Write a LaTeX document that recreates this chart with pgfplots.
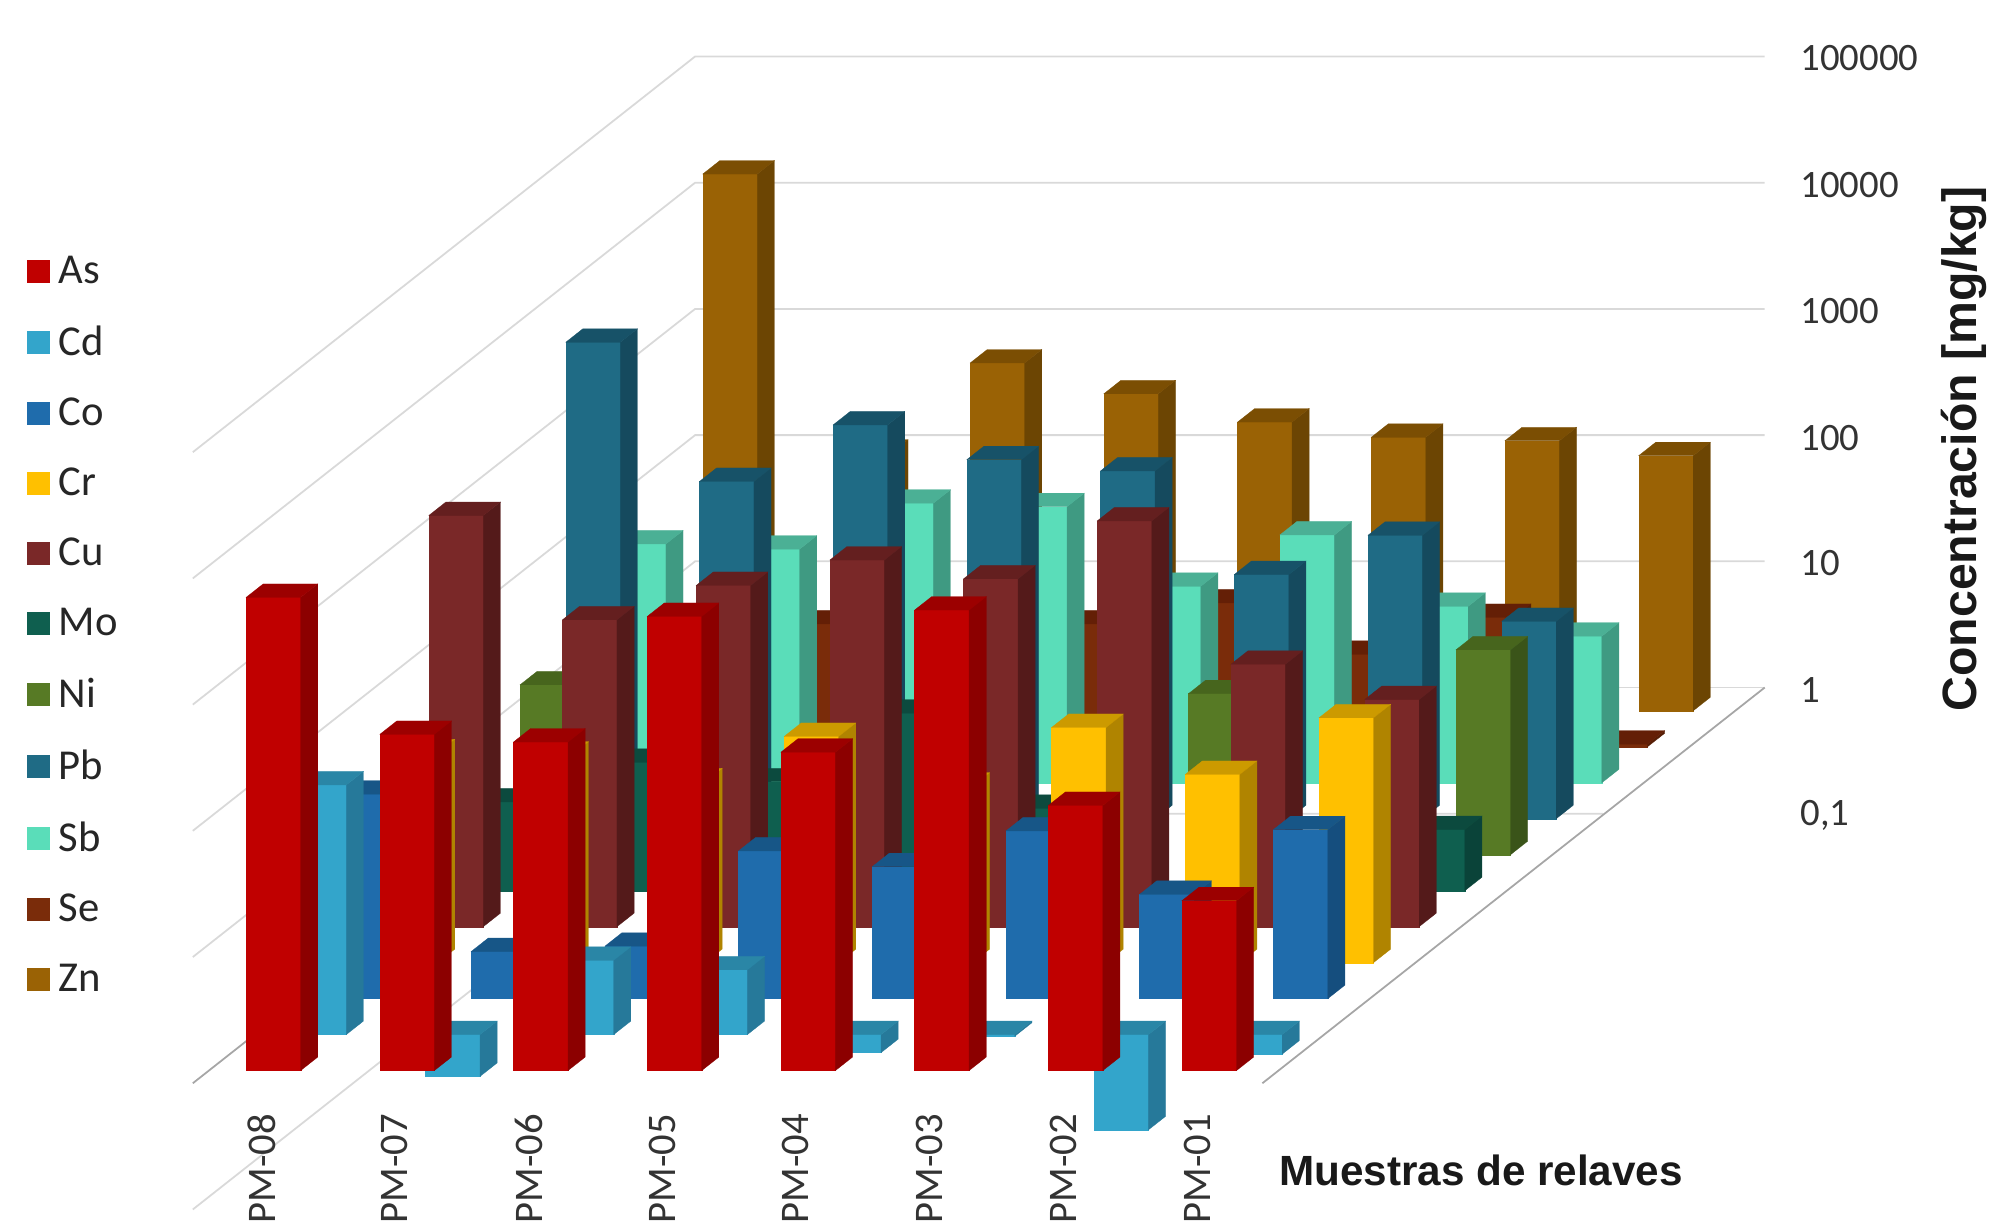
\documentclass[border=0pt]{standalone}
\usepackage{fontspec}
\setmainfont{Carlito}
\newfontfamily\arial{Liberation Sans}
\usepackage{pgfplots}
\usepackage{pgfplotstable}
\pgfplotsset{compat=1.18}

% concentrations in mg/kg, nan = no bar
\pgfplotstableread{
sample As    Cd    Co   Cr  Cu   Mo   Ni   Pb   Sb  Se   Zn
PM-08  5610  95    41.7 46  1810 5.05 22.2 5960 78  5    17900
PM-07  461   0.466 2.36 44  270  10.4 nan  470  71  9.4  110
PM-06  401   3.88  2.6  27  505  7.3  nan  1320 164 5    570
PM-05  3963  3.26  14.8 62  803  25.5 nan  700  154 9.4  325
PM-04  333   0.72  11.1 25  570  4.5  nan  570  36  13.8 194
PM-03  4449  0.97  21.3 73  1640 nan  18.9 86   92  5.4  147
PM-02  126   0.176 6.7  31  120  nan  nan  176  25  10.6 138
PM-01  22.2  0.7   21.8 87  63   3.05 42   36.6 14.5 1.05 105
}\metals

\definecolor{AsF}{HTML}{C00000}\definecolor{AsS}{HTML}{8C0000}\definecolor{AsT}{HTML}{9C0000}
\definecolor{CdF}{HTML}{33A5CB}\definecolor{CdS}{HTML}{26799A}\definecolor{CdT}{HTML}{2A86A6}
\definecolor{CoF}{HTML}{1F6CAC}\definecolor{CoS}{HTML}{154E7E}\definecolor{CoT}{HTML}{175687}
\definecolor{CrF}{HTML}{FFC000}\definecolor{CrS}{HTML}{B08400}\definecolor{CrT}{HTML}{CC9A00}
\definecolor{CuF}{HTML}{7A2828}\definecolor{CuS}{HTML}{541A1A}\definecolor{CuT}{HTML}{641F1F}
\definecolor{MoF}{HTML}{0F5F4F}\definecolor{MoS}{HTML}{0A4339}\definecolor{MoT}{HTML}{0C4A3E}
\definecolor{NiF}{HTML}{577A25}\definecolor{NiS}{HTML}{3A5419}\definecolor{NiT}{HTML}{47651D}
\definecolor{PbF}{HTML}{1F6B85}\definecolor{PbS}{HTML}{154A5E}\definecolor{PbT}{HTML}{175268}
\definecolor{SbF}{HTML}{5ADDB9}\definecolor{SbS}{HTML}{3F9A82}\definecolor{SbT}{HTML}{4BB095}
\definecolor{SeF}{HTML}{7A2C0A}\definecolor{SeS}{HTML}{561E06}\definecolor{SeT}{HTML}{641F06}
\definecolor{ZnF}{HTML}{9A6205}\definecolor{ZnS}{HTML}{6C4503}\definecolor{ZnT}{HTML}{7B4E03}
\definecolor{wall}{HTML}{D9D9D9}
\definecolor{floorline}{HTML}{A6A6A6}

\def\nodata{nan}
% one 3D bar: sample index, row index, metal
\newcommand{\Bar}[3]{%
  \pgfplotstablegetelem{#1}{#3}\of\metals
  \ifx\pgfplotsretval\nodata\else
    \edef\val{\pgfplotsretval}%
    \edef\hi{\fpeval{max(\val,1)}}\edef\lo{\fpeval{min(\val,1)}}%
    \edef\xa{\fpeval{#1+0.278}}\edef\xb{\fpeval{#1+0.686}}%
    \edef\ya{\fpeval{#2+0.353}}\edef\yb{\fpeval{#2+0.728}}%
    \addplot3[forget plot,fill=#3F,draw=#3F,line width=0.1pt] coordinates
      {(\xa,\ya,\lo)(\xb,\ya,\lo)(\xb,\ya,\hi)(\xa,\ya,\hi)} -- cycle;
    \addplot3[forget plot,fill=#3S,draw=#3S,line width=0.1pt] coordinates
      {(\xb,\ya,\lo)(\xb,\yb,\lo)(\xb,\yb,\hi)(\xb,\ya,\hi)} -- cycle;
    \addplot3[forget plot,fill=#3T,draw=#3T,line width=0.1pt] coordinates
      {(\xa,\ya,\hi)(\xb,\ya,\hi)(\xb,\yb,\hi)(\xa,\yb,\hi)} -- cycle;
  \fi}
\newcommand{\Row}[2]{\Bar{0}{#2}{#1}\Bar{1}{#2}{#1}\Bar{2}{#2}{#1}\Bar{3}{#2}{#1}%
  \Bar{4}{#2}{#1}\Bar{5}{#2}{#1}\Bar{6}{#2}{#1}\Bar{7}{#2}{#1}}
\newcommand{\Level}[1]{%
  \addplot3[forget plot,wall,line width=0.7pt] coordinates {(0,0,#1)(0,11,#1)(8,11,#1)};}
\newcommand{\Entry}[1]{\addlegendimage{fill=#1F,draw=none}\addlegendentry{\hspace{1.5pt}#1}}
% text position in pixels of the 1568 wide view
\newcommand{\PX}[2]{([xshift=#1*0.5pt,yshift=-#2*0.5pt]TL)}

\begin{document}
\begin{tikzpicture}
\begin{axis}[
    hide axis, clip=false,
    x={(52.7pt,0pt)}, y={(18pt,14.18pt)}, z={(0pt,21.606pt)},
    xmin=0, xmax=8, ymin=0, ymax=11,
    zmode=log, zmin=0.01, zmax=100000,
    legend image code/.code={\fill[#1] (0pt,-4.5pt) rectangle (9pt,4.5pt);},
    legend cell align=left,
    legend style={draw=none, fill=none, inner sep=0pt, font=\fontsize{16.8}{18}\selectfont,
      text=black!85, row sep=11.25pt, at={(axis cs:-1.243,0,3.99e6)}, anchor=north west},
  ]
  \Entry{As}\Entry{Cd}\Entry{Co}\Entry{Cr}\Entry{Cu}\Entry{Mo}
  \Entry{Ni}\Entry{Pb}\Entry{Sb}\Entry{Se}\Entry{Zn}

  \Level{100000}\Level{10000}\Level{1000}\Level{100}\Level{10}
  \addplot3[forget plot,wall,line width=0.7pt] coordinates {(0,0,0.1)(0,11,0.1)(6.79,11,0.1)};
  \addplot3[forget plot,wall,line width=0.7pt] coordinates {(0,11,1)(8,11,1)};
  \addplot3[forget plot,floorline,line width=0.7pt] coordinates {(0,11,1)(0,0,1)};
  \addplot3[forget plot,floorline,line width=0.7pt] coordinates {(8,11,1)(8,0,1)};

  \Row{Zn}{10}\Row{Se}{9}\Row{Sb}{8}\Row{Pb}{7}\Row{Ni}{6}\Row{Mo}{5}
  \Row{Cu}{4}\Row{Cr}{3}\Row{Co}{2}\Row{Cd}{1}\Row{As}{0}

  \coordinate (TL) at (axis cs:-1.4421,0,3.828e8);
  \coordinate (BR) at (axis cs:13.435,0,0.07149);
\end{axis}
\pgfresetboundingbox
\path[use as bounding box] (TL) rectangle (BR);
\begin{scope}[every node/.style={inner sep=0pt,text=black!80,font=\fontsize{15.3}{17}\selectfont}]
  \node[anchor=west] at \PX{1419}{46} {100000};
  \node[anchor=west] at \PX{1419}{146} {10000};
  \node[anchor=west] at \PX{1419}{245} {1000};
  \node[anchor=west] at \PX{1419}{345} {100};
  \node[anchor=west] at \PX{1419}{444} {10};
  \node[anchor=west] at \PX{1419}{544} {1};
  \node[anchor=west] at \PX{1419}{643} {0,1};
\end{scope}
\begin{scope}[every node/.style={inner sep=0pt,rotate=90,anchor=east,text=black!80,font=\fontsize{16}{18}\selectfont}]
  \node at \PX{206}{878} {PM-08};
  \node at \PX{311}{878} {PM-07};
  \node at \PX{417}{878} {PM-06};
  \node at \PX{522}{878} {PM-05};
  \node at \PX{627}{878} {PM-04};
  \node at \PX{733}{878} {PM-03};
  \node at \PX{838}{878} {PM-02};
  \node at \PX{944}{878} {PM-01};
\end{scope}
\node[inner sep=0pt,anchor=west,font=\arial\bfseries\fontsize{16.65}{18}\selectfont,text=black!90] at \PX{1008}{923} {Muestras de relaves};
\node[inner sep=0pt,rotate=90,font=\arial\bfseries\fontsize{19}{21}\selectfont,text=black!90] at \PX{1548}{354} {Concentración [mg/kg]};
\end{tikzpicture}
\end{document}
